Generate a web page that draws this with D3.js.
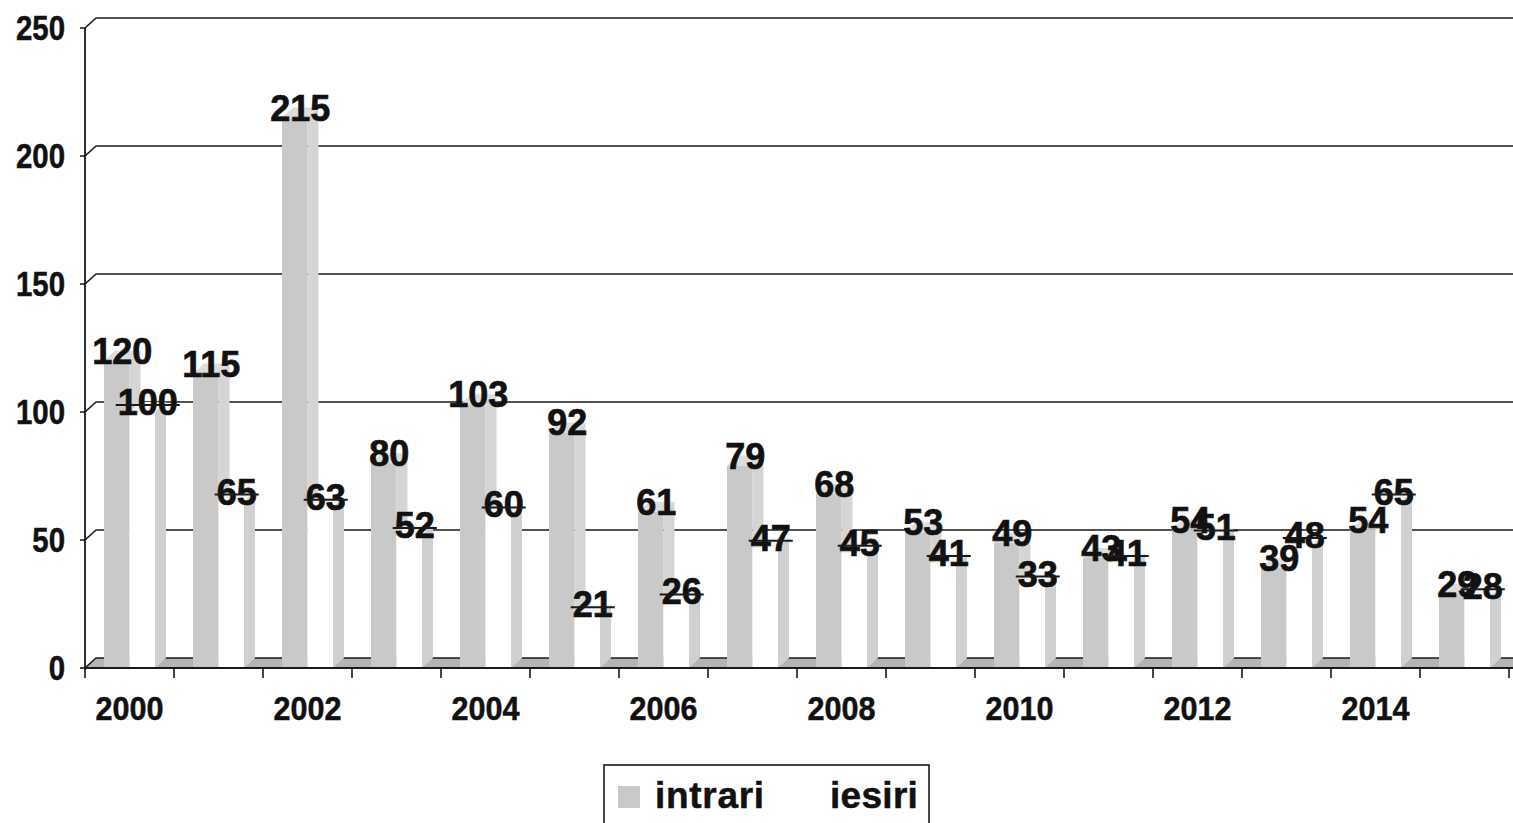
<!DOCTYPE html>
<html>
<head>
<meta charset="utf-8">
<script src="https://cdn.jsdelivr.net/npm/d3@7"></script>
<style>
  html, body { margin: 0; padding: 0; background: #fff; overflow: hidden; }
  svg { display: block; }
</style>
</head>
<body>
<svg id="chart" width="1513" height="823"></svg>
<script>
// ---- data ----
const years = ["2000","2001","2002","2003","2004","2005","2006","2007","2008","2009","2010","2011","2012","2013","2014","2015"];
const intrari = [120, 115, 215, 80, 103, 92, 61, 79, 68, 53, 49, 43, 54, 39, 54, 29];
const iesiri  = [100, 65, 63, 52, 60, 21, 26, 47, 45, 41, 33, 41, 51, 48, 65, 28];
const seriesNames = ["intrari", "iesiri"];
const yTicks = [0, 50, 100, 150, 200, 250];
const xLabelYears = ["2000","2002","2004","2006","2008","2010","2012","2014"];

// ---- layout ----
const svg = d3.select("#chart");
const pLeft = 85, pRight = 85 + 16 * 89, pTop = 28, pBottom = 668;
const DX = 11, DY = 10;
const axisFont = "'Liberation Sans', Arial, sans-serif";
const labelFont = "'Liberation Sans', Arial, sans-serif";

const x0 = d3.scaleBand().domain(years).range([pLeft, pRight]).padding(0);
const x1 = d3.scaleBand().domain(seriesNames).range([19, 70]).padding(0);
const y = d3.scaleLinear().domain([0, 250]).range([pBottom, pTop]);

const data = years.map((yr, i) => ({ year: yr, values: [
  { key: "intrari", v: intrari[i] },
  { key: "iesiri", v: iesiri[i] }
]}));

const colors = {
  intrari: { front: "#c9c9c9", side: "#d5d5d5", top: "#dddddd" },
  iesiri:  { front: "#ffffff", side: "#d0d0d0", top: "#f4f4f4" }
};

// ---- back wall gridlines ----
const grid = svg.append("g");
yTicks.forEach(t => {
  if (t === 0) return;
  grid.append("path")
    .attr("d", `M${pLeft - 5},${y(t)} L${pLeft},${y(t)} L${pLeft + DX},${y(t) - DY} L1513,${y(t) - DY}`)
    .attr("fill", "none").attr("stroke", "#1a1a1a").attr("stroke-width", 1.6);
});

// ---- floor ----
svg.append("path")
  .attr("d", `M${pLeft},${pBottom} L${pLeft + DX},${pBottom - DY} L1513,${pBottom - DY} L1513,${pBottom} Z`)
  .attr("fill", "#b4b4b4");
svg.append("path")
  .attr("d", `M${pLeft},${pBottom} L${pLeft + DX},${pBottom - DY} L1513,${pBottom - DY}`)
  .attr("fill", "none").attr("stroke", "#1a1a1a").attr("stroke-width", 1.6);

// ---- bars ----
const barsG = svg.append("g");
data.forEach(d => {
  d.values.forEach(s => {
    const xa = x0(d.year) + x1(s.key);
    const xb = xa + x1.bandwidth();
    const yf = y(s.v), yb = pBottom;
    const c = colors[s.key];
    barsG.append("path")
      .attr("d", `M${xb},${yf} L${xb + DX},${yf - DY} L${xb + DX},${yb - DY} L${xb},${yb} Z`)
      .attr("fill", c.side);
    barsG.append("path")
      .attr("d", `M${xa},${yf} L${xa + DX},${yf - DY} L${xb + DX},${yf - DY} L${xb},${yf} Z`)
      .attr("fill", c.top);
    barsG.append("rect")
      .attr("x", xa).attr("y", yf).attr("width", xb - xa).attr("height", yb - yf)
      .attr("fill", c.front);
  });
});

// ---- axes ----
svg.append("line").attr("x1", pLeft).attr("x2", pLeft).attr("y1", pTop).attr("y2", pBottom + 2)
  .attr("stroke", "#1a1a1a").attr("stroke-width", 1.8);
svg.append("line").attr("x1", pLeft).attr("x2", 1513).attr("y1", pBottom).attr("y2", pBottom)
  .attr("stroke", "#1a1a1a").attr("stroke-width", 1.8);
svg.append("line").attr("x1", pLeft - 5).attr("x2", pLeft).attr("y1", pBottom).attr("y2", pBottom)
  .attr("stroke", "#1a1a1a").attr("stroke-width", 1.6);

// x ticks at category boundaries
const tickXs = years.map(yr => x0(yr)).concat([pRight]);
svg.append("g").selectAll("line").data(tickXs).join("line")
  .attr("x1", d => d).attr("x2", d => d).attr("y1", pBottom).attr("y2", pBottom + 10)
  .attr("stroke", "#1a1a1a").attr("stroke-width", 1.6);

// y tick labels (condensed)
svg.append("g").selectAll("text").data(yTicks).join("text")
  .attr("transform", d => `translate(65,${y(d) + 12}) scale(0.84,1)`)
  .attr("text-anchor", "end")
  .attr("font-family", axisFont).attr("font-weight", "bold").attr("font-size", 35)
  .attr("fill", "#111").attr("stroke", "#111").attr("stroke-width", 0.5)
  .text(d => d);

// x tick labels (condensed)
svg.append("g").selectAll("text").data(xLabelYears).join("text")
  .attr("transform", d => `translate(${x0(d) + x0.bandwidth() / 2},720) scale(0.9,1)`)
  .attr("text-anchor", "middle")
  .attr("font-family", axisFont).attr("font-weight", "bold").attr("font-size", 34)
  .attr("fill", "#111").attr("stroke", "#111").attr("stroke-width", 0.5)
  .text(d => d);

// ---- data labels ----
const lblG = svg.append("g");
data.forEach(d => {
  d.values.forEach(s => {
    const cx = x0(d.year) + x1(s.key) + x1.bandwidth() / 2 + DX / 2;
    const yb = y(s.v) - DY;
    const t = lblG.append("text")
      .attr("x", cx).attr("y", yb + 13)
      .attr("text-anchor", "middle")
      .attr("font-family", labelFont).attr("font-weight", "bold").attr("font-size", 36)
      .attr("fill", "#111").attr("stroke", "#111").attr("stroke-width", 0.7)
      .text(s.v);
    if (s.key === "iesiri") {
      const bb = t.node().getBBox();
      lblG.append("line")
        .attr("x1", bb.x - 2).attr("x2", bb.x + bb.width + 2)
        .attr("y1", yb + 3).attr("y2", yb + 3)
        .attr("stroke", "#1a1a1a").attr("stroke-width", 2);
    }
  });
});

// ---- legend ----
const lg = svg.append("g");
lg.append("rect").attr("x", 604).attr("y", 765).attr("width", 325).attr("height", 80)
  .attr("fill", "#fff").attr("stroke", "#1a1a1a").attr("stroke-width", 1.6);
lg.append("rect").attr("x", 618).attr("y", 786).attr("width", 22).attr("height", 22)
  .attr("fill", colors.intrari.front);
lg.append("rect").attr("x", 797).attr("y", 786).attr("width", 22).attr("height", 22)
  .attr("fill", colors.iesiri.front);
lg.append("text").attr("x", 655).attr("y", 808)
  .attr("font-family", labelFont).attr("font-weight", "bold").attr("font-size", 37)
  .attr("letter-spacing", 0.7).attr("fill", "#111").attr("stroke", "#111").attr("stroke-width", 0.5)
  .text(seriesNames[0]);
lg.append("text").attr("x", 830).attr("y", 808)
  .attr("font-family", labelFont).attr("font-weight", "bold").attr("font-size", 37)
  .attr("letter-spacing", 0.3).attr("fill", "#111").attr("stroke", "#111").attr("stroke-width", 0.5)
  .text(seriesNames[1]);
</script>
</body>
</html>
